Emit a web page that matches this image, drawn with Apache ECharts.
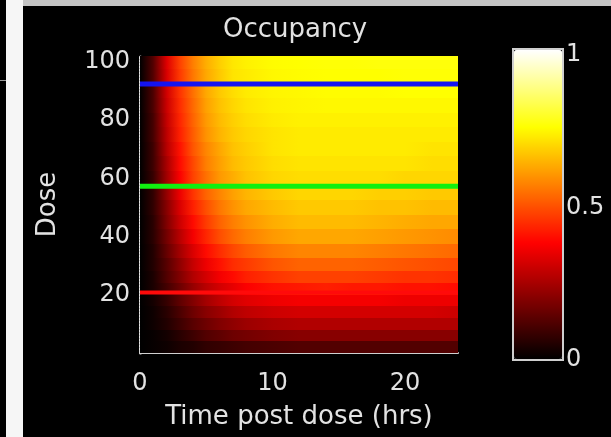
<!DOCTYPE html>
<html>
<head>
<meta charset="utf-8">
<script src="https://cdn.jsdelivr.net/npm/echarts@6/dist/echarts.min.js"></script>
<style>
  html, body { margin: 0; padding: 0; background: #000; }
  #chart { width: 611px; height: 437px; }
</style>
</head>
<body>
<div id="chart"></div>
<script>
const timePoints = [0, 1, 2, 3, 4, 5, 6, 7, 8, 10, 12, 14, 16, 18, 20, 22, 24]
// dose rows, low to high
const doseLevels = [2, 6, 10, 14, 18, 22, 26, 30, 35, 40, 45, 50, 55, 60, 65, 70, 75, 80, 85, 90, 95, 100]
// occupancy[i][j] = dose doseLevels[i], time timePoints[j]
const occupancy = [
  [0, 0.01, 0.02, 0.04, 0.05, 0.07, 0.08, 0.09, 0.10, 0.11, 0.12, 0.12, 0.12, 0.12, 0.12, 0.12, 0.12],
  [0, 0.01, 0.03, 0.06, 0.09, 0.12, 0.14, 0.16, 0.17, 0.19, 0.20, 0.20, 0.20, 0.20, 0.20, 0.20, 0.20],
  [0, 0.02, 0.05, 0.09, 0.13, 0.16, 0.19, 0.21, 0.23, 0.25, 0.26, 0.26, 0.26, 0.26, 0.26, 0.26, 0.26],
  [0, 0.02, 0.06, 0.11, 0.16, 0.20, 0.23, 0.26, 0.28, 0.30, 0.31, 0.31, 0.31, 0.31, 0.31, 0.31, 0.30],
  [0, 0.03, 0.08, 0.14, 0.19, 0.24, 0.28, 0.31, 0.33, 0.35, 0.36, 0.36, 0.36, 0.36, 0.35, 0.35, 0.35],
  [0, 0.04, 0.10, 0.16, 0.22, 0.27, 0.31, 0.34, 0.37, 0.40, 0.41, 0.42, 0.41, 0.41, 0.40, 0.40, 0.39],
  [0, 0.04, 0.12, 0.19, 0.26, 0.31, 0.36, 0.39, 0.42, 0.45, 0.47, 0.47, 0.47, 0.46, 0.45, 0.45, 0.44],
  [0, 0.05, 0.13, 0.21, 0.29, 0.35, 0.40, 0.44, 0.46, 0.50, 0.52, 0.52, 0.52, 0.51, 0.50, 0.49, 0.48],
  [0, 0.05, 0.15, 0.24, 0.32, 0.39, 0.44, 0.48, 0.51, 0.55, 0.57, 0.57, 0.57, 0.56, 0.55, 0.54, 0.53],
  [0, 0.06, 0.17, 0.27, 0.36, 0.43, 0.49, 0.53, 0.56, 0.60, 0.62, 0.62, 0.62, 0.61, 0.60, 0.59, 0.58],
  [0, 0.06, 0.19, 0.30, 0.39, 0.46, 0.52, 0.56, 0.59, 0.63, 0.65, 0.65, 0.65, 0.64, 0.63, 0.62, 0.62],
  [0, 0.07, 0.20, 0.32, 0.42, 0.49, 0.55, 0.59, 0.62, 0.65, 0.67, 0.67, 0.67, 0.66, 0.66, 0.65, 0.65],
  [0, 0.07, 0.22, 0.35, 0.45, 0.52, 0.57, 0.61, 0.64, 0.67, 0.69, 0.69, 0.69, 0.68, 0.68, 0.67, 0.67],
  [0, 0.08, 0.24, 0.37, 0.47, 0.54, 0.60, 0.63, 0.66, 0.69, 0.70, 0.70, 0.70, 0.70, 0.69, 0.69, 0.69],
  [0, 0.09, 0.25, 0.39, 0.48, 0.56, 0.61, 0.65, 0.67, 0.70, 0.71, 0.71, 0.71, 0.71, 0.71, 0.70, 0.70],
  [0, 0.09, 0.27, 0.40, 0.50, 0.57, 0.62, 0.66, 0.68, 0.71, 0.72, 0.72, 0.72, 0.72, 0.72, 0.71, 0.71],
  [0, 0.10, 0.28, 0.42, 0.51, 0.59, 0.64, 0.67, 0.69, 0.71, 0.72, 0.72, 0.72, 0.72, 0.72, 0.72, 0.72],
  [0, 0.10, 0.29, 0.43, 0.52, 0.60, 0.65, 0.68, 0.70, 0.72, 0.73, 0.73, 0.73, 0.73, 0.73, 0.73, 0.73],
  [0, 0.11, 0.30, 0.44, 0.53, 0.61, 0.66, 0.69, 0.71, 0.73, 0.735, 0.74, 0.74, 0.74, 0.74, 0.74, 0.74],
  [0, 0.11, 0.31, 0.45, 0.54, 0.62, 0.67, 0.70, 0.72, 0.735, 0.74, 0.745, 0.745, 0.745, 0.75, 0.75, 0.75],
  [0, 0.12, 0.32, 0.46, 0.55, 0.62, 0.67, 0.71, 0.72, 0.74, 0.745, 0.75, 0.75, 0.75, 0.755, 0.755, 0.755],
  [0, 0.12, 0.33, 0.47, 0.56, 0.63, 0.68, 0.715, 0.73, 0.745, 0.75, 0.755, 0.755, 0.76, 0.76, 0.76, 0.76],
]
// horizontal marker lines (dose)
const markerDoses = [92.4, 57.3, 20.8]
const colorbarTicks = [0, 0.5, 1]

// matlab "hot"
const hotStops = ['#000000', '#550000', '#aa0000', '#ff0000', '#ff5500', '#ffaa00', '#ffff00', '#ffff80', '#ffffff']
const hot = (v) => echarts.color.lerp(Math.max(0, Math.min(1, v)), hotStops)

const DOSE_MAX = 102
const cells = []
doseLevels.forEach((d, i) => {
  const lo = i === 0 ? 0 : (doseLevels[i - 1] + d) / 2
  const hi = i === doseLevels.length - 1 ? DOSE_MAX : (d + doseLevels[i + 1]) / 2
  for (let j = 0; j < timePoints.length - 1; j++) {
    cells.push([timePoints[j], timePoints[j + 1], lo, hi, occupancy[i][j], occupancy[i][j + 1]])
  }
})

const txt = '#e2e2e2'
const font = 'DejaVu Sans'

const chart = echarts.init(document.getElementById('chart'))
chart.setOption({
  backgroundColor: '#000',
  animation: false,
  textStyle: { fontFamily: font },
  title: {
    text: 'Occupancy',
    left: 218,
    top: 12,
    textStyle: { color: txt, fontSize: 26, fontWeight: 'normal', fontFamily: font },
  },
  grid: [
    { left: 140, top: 56, width: 318, height: 297 },
    // colorbar labels sit a little below the bar ends in the original
    { left: 514, top: 55, width: 48, height: 305 },
  ],
  xAxis: [
    {
      type: 'value',
      gridIndex: 0,
      min: 0,
      max: 24,
      interval: 10,
      name: 'Time post dose (hrs)',
      nameLocation: 'middle',
      nameGap: 51,
      nameTextStyle: { color: txt, fontSize: 26 },
      axisLine: { show: true, lineStyle: { color: '#d0d0d0', width: 2 } },
      axisTick: { show: true, inside: true, length: 3, lineStyle: { color: '#d0d0d0', width: 2 } },
      axisLabel: { color: txt, fontSize: 24, margin: 19, showMaxLabel: false },
      splitLine: { show: false },
    },
    { type: 'value', gridIndex: 1, min: 0, max: 1, show: false },
  ],
  yAxis: [
    {
      type: 'value',
      gridIndex: 0,
      min: 0,
      max: DOSE_MAX,
      interval: 20,
      name: 'Dose',
      nameLocation: 'middle',
      nameGap: 79,
      nameTextStyle: { color: txt, fontSize: 26 },
      axisLine: { show: true, lineStyle: { color: '#e0e0e0', width: 3, type: [2, 1] } },
      axisTick: { show: false },
      axisLabel: { color: txt, fontSize: 24, margin: 10, showMinLabel: false, showMaxLabel: false },
      splitLine: { show: false },
    },
    {
      type: 'value',
      gridIndex: 1,
      position: 'right',
      min: colorbarTicks[0],
      max: colorbarTicks[2],
      interval: colorbarTicks[1],
      axisLine: { show: false },
      axisTick: { show: true, length: 4, lineStyle: { color: '#cccccc', width: 2 } },
      axisLabel: { color: txt, fontSize: 24, margin: 4 },
      splitLine: { show: false },
    },
  ],
  visualMap: {
    type: 'continuous',
    seriesIndex: 0,
    dimension: 4,
    min: 0,
    max: 1,
    orient: 'vertical',
    left: 514,
    top: 50,
    itemWidth: 48,
    itemHeight: 309,
    padding: 0,
    calculable: false,
    hoverLink: false,
    inRange: { color: hotStops },
  },
  graphic: [
    { type: 'rect', shape: { x: 6, y: 0, width: 17, height: 437 }, style: { fill: '#f6f6f6' }, z: 100 },
    { type: 'rect', shape: { x: 23, y: 0, width: 588, height: 6 }, style: { fill: '#c4c4c4' }, z: 100 },
    { type: 'rect', shape: { x: 0, y: 80, width: 6, height: 1 }, style: { fill: '#9a9a9a' }, z: 100 },
    {
      type: 'rect',
      shape: { x: 513, y: 49, width: 50, height: 311 },
      style: { fill: null, stroke: '#cfcfcf', lineWidth: 2 },
      z: 100,
    },
  ],
  series: [
    {
      type: 'custom',
      xAxisIndex: 0,
      yAxisIndex: 0,
      clip: true,
      data: cells,
      renderItem: (params, api) => {
        const a = api.coord([api.value(0), api.value(3)])
        const b = api.coord([api.value(1), api.value(2)])
        const x = Math.round(a[0])
        const y = Math.round(a[1])
        return {
          type: 'rect',
          shape: { x: x, y: y, width: Math.round(b[0]) - x, height: Math.round(b[1]) - y },
          style: {
            fill: new echarts.graphic.LinearGradient(0, 0, 1, 0, [
              { offset: 0, color: hot(api.value(4)) },
              { offset: 1, color: hot(api.value(5)) },
            ]),
          },
        }
      },
    },
    {
      type: 'line',
      data: [[0, markerDoses[0]], [24, markerDoses[0]]],
      symbol: 'none',
      lineStyle: { color: '#1414f0', width: 5 },
      z: 5,
    },
    {
      type: 'line',
      data: [[0, markerDoses[1]], [24, markerDoses[1]]],
      symbol: 'none',
      lineStyle: { color: '#10f010', width: 5 },
      z: 5,
    },
    {
      type: 'line',
      data: [[0, markerDoses[2]], [24, markerDoses[2]]],
      symbol: 'none',
      lineStyle: { color: '#ff0a0a', width: 4 },
      z: 5,
    },
  ],
})
</script>
</body>
</html>
